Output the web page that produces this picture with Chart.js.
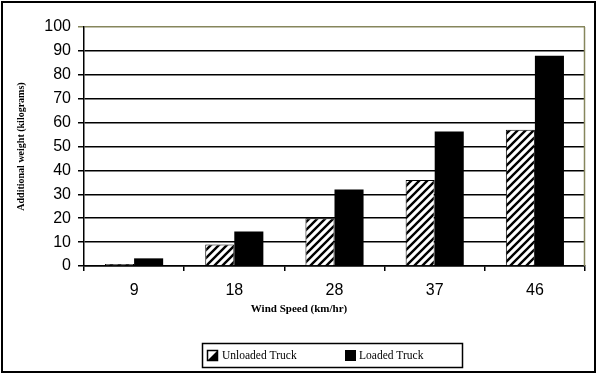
<!DOCTYPE html>
<html><head><meta charset="utf-8">
<script src="https://cdn.jsdelivr.net/npm/chart.js@4"></script>
<style>html,body{margin:0;padding:0;background:#fff}canvas{display:block}</style>
</head><body>
<canvas id="c" width="600" height="379"></canvas>
<script>
const categories = ['9', '18', '28', '37', '46'];
const unloadedTruck = [0.8, 9.0, 20.0, 36.0, 57.0];
const loadedTruck = [3.2, 14.4, 32.0, 56.3, 88.0];
const seriesNames = ['Unloaded Truck', 'Loaded Truck'];
const xTitle = 'Wind Speed (km/hr)';
const yTitle = 'Additional weight (kilograms)';

const OLIVE = '#86865c';

function makeHatch() {
  const p = document.createElement('canvas');
  p.width = 8; p.height = 8;
  const g = p.getContext('2d');
  g.fillStyle = '#fff'; g.fillRect(0, 0, 8, 8);
  g.strokeStyle = '#000'; g.lineWidth = 2.4;
  g.beginPath();
  g.moveTo(-2, 10); g.lineTo(10, -2);
  g.moveTo(-2, 2); g.lineTo(2, -2);
  g.moveTo(6, 10); g.lineTo(10, 6);
  g.stroke();
  return p;
}

const canvas = document.getElementById('c');
const ctx0 = canvas.getContext('2d');
const hatch = ctx0.createPattern(makeHatch(), 'repeat');

const decor = {
  id: 'decor',
  beforeDatasetsDraw(chart) {
    const { ctx, chartArea: a } = chart;
    ctx.save();
    ctx.strokeStyle = OLIVE; ctx.lineWidth = 1.5;
    ctx.beginPath();
    ctx.moveTo(Math.round(a.right) - 0.5, a.top);
    ctx.lineTo(Math.round(a.right) - 0.5, a.bottom);
    ctx.stroke();
    ctx.restore();
  },
  afterDraw(chart) {
    const { ctx, chartArea: a } = chart;
    ctx.save();
    // outer frame
    ctx.strokeStyle = '#000'; ctx.lineWidth = 2;
    ctx.strokeRect(2, 2, 593, 370);
    // axis titles
    ctx.fillStyle = '#000';
    ctx.textAlign = 'center'; ctx.textBaseline = 'middle';
    ctx.font = 'bold 11px "Liberation Serif", "Times New Roman", serif';
    ctx.fillText(xTitle, 299, 309);
    ctx.font = 'bold 10px "Liberation Serif", "Times New Roman", serif';
    ctx.save();
    ctx.translate(21, (a.top + a.bottom) / 2);
    ctx.rotate(-Math.PI / 2);
    ctx.fillText(yTitle, 0, 0);
    ctx.restore();
    // legend
    ctx.lineWidth = 1.5;
    ctx.strokeRect(202.5, 343.5, 260, 24);
    // swatch 1 (hatched)
    ctx.fillStyle = '#fff';
    ctx.fillRect(207, 350, 11, 11);
    ctx.fillStyle = '#000';
    ctx.beginPath();
    ctx.moveTo(218, 350); ctx.lineTo(218, 361); ctx.lineTo(207, 361); ctx.closePath();
    ctx.fill();
    ctx.strokeRect(207.5, 350.5, 10, 10);
    // swatch 2
    ctx.fillRect(345, 350, 11, 11);
    ctx.font = '11.5px "Liberation Serif", "Times New Roman", serif';
    ctx.textAlign = 'left';
    ctx.fillText(seriesNames[0], 222, 356);
    ctx.fillText(seriesNames[1], 359, 356);
    ctx.restore();
  }
};

new Chart(canvas, {
  type: 'bar',
  data: {
    labels: categories,
    datasets: [
      { label: seriesNames[0], data: unloadedTruck, backgroundColor: hatch, borderColor: '#000', borderWidth: 1 },
      { label: seriesNames[1], data: loadedTruck, backgroundColor: '#000', borderColor: '#000', borderWidth: 0 }
    ]
  },
  options: {
    responsive: false,
    animation: false,
    devicePixelRatio: 1,
    categoryPercentage: 0.58,
    barPercentage: 1.0,
    layout: { padding: { left: 0, top: 27, right: 15, bottom: 0 } },
    plugins: { legend: { display: false }, tooltip: { enabled: false }, title: { display: false } },
    scales: {
      x: {
        offset: true,
        grid: { drawOnChartArea: false, drawTicks: true, tickLength: 5, color: '#000', offset: true, lineWidth: 1.5 },
        border: { color: '#000', width: 1.5 },
        ticks: { color: '#000', padding: 10, font: { family: '"Liberation Sans", Arial, sans-serif', size: 16 } },
        afterFit(s) { s.height = 113; }
      },
      y: {
        min: 0, max: 100,
        grid: {
          color: (c) => (c.tick && c.tick.value === 100 ? OLIVE : '#000'),
          tickLength: 6, lineWidth: 1.5
        },
        border: { color: '#000', width: 1.5 },
        ticks: { stepSize: 10, color: '#000', padding: 7, font: { family: '"Liberation Sans", Arial, sans-serif', size: 16 } },
        afterFit(s) { s.width = 84; }
      }
    }
  },
  plugins: [decor]
});
</script>
</body></html>
